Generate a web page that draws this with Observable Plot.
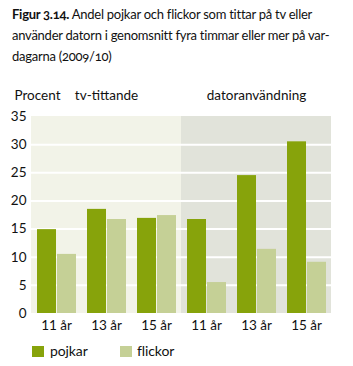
<!DOCTYPE html>
<html>
<head>
<meta charset="utf-8">
<script src="https://cdn.jsdelivr.net/npm/d3@7"></script>
<script src="https://cdn.jsdelivr.net/npm/@observablehq/plot@0.6"></script>
<style>
  html, body { margin: 0; padding: 0; background: #fff; }
  body { width: 353px; height: 366px; position: relative; overflow: hidden; font-family: Lato, "Open Sans", sans-serif; color: #111; }
  #title { position: absolute; left: 12px; top: 4px; font-size: 13px; letter-spacing: -0.25px; line-height: 21px; white-space: nowrap; font-variant-numeric: oldstyle-nums; }
  #title b { font-weight: 700; }
  #chart { position: absolute; left: 0; top: 80px; }
  .lg-sw { position: absolute; width: 12px; height: 11px; top: 346px; }
  .lg-tx { position: absolute; top: 342px; font-size: 14px; line-height: 18px; letter-spacing: -0.1px; }
</style>
</head>
<body>
<div id="title"><b>Figur 3.14.</b> Andel pojkar och flickor som tittar på tv eller<br>använder datorn i genomsnitt fyra timmar eller mer på var-<br>dagarna (2009/10)</div>
<div id="chart"></div>
<div class="lg-sw" style="left:32px;background:#87a30b"></div>
<div class="lg-tx" style="left:50px">pojkar</div>
<div class="lg-sw" style="left:120px;background:#c5d096"></div>
<div class="lg-tx" style="left:137px">flickor</div>
<script>
const groups = ["11 år", "13 år", "15 år"];
const sections = ["tv-tittande", "datoranvändning"];
const sexes = ["pojkar", "flickor"];
const pojkarTv = [14.9, 18.5, 16.9];
const flickorTv = [10.5, 16.7, 17.4];
const pojkarDator = [16.7, 24.5, 30.5];
const flickorDator = [5.5, 11.4, 9.1];
const yTicks = [0, 5, 10, 15, 20, 25, 30, 35];
const gridTicks = [5, 10, 15, 20, 25, 30];
const colors = ["#87a30b", "#c5d096"];
const bgColors = ["#f2f3e8", "#e1e3da"];

const values = {
  "tv-tittande": {pojkar: pojkarTv, flickor: flickorTv},
  "datoranvändning": {pojkar: pojkarDator, flickor: flickorDator}
};

const keys = [];
const bg = [];
const rows = [];
sections.forEach((s, si) => {
  groups.forEach((g, gi) => {
    const key = s + "|" + g;
    keys.push(key);
    bg.push({key, section: s, si});
    sexes.forEach(sex => rows.push({key, sex, value: values[s][sex][gi]}));
  });
});

const labels = [
  {key: keys[0], text: "Procent"},
  {key: keys[1], text: sections[0]},
  {key: keys[4], text: sections[1]}
];

const chart = Plot.plot({
  width: 353,
  height: 253,
  marginTop: 36,
  marginBottom: 20,
  marginLeft: 29,
  marginRight: 20,
  style: {fontFamily: "Lato, 'Open Sans', sans-serif", fontSize: "13.5px", color: "#111", background: "transparent", overflow: "visible"},
  fx: {domain: keys, padding: 0, tickFormat: k => k.split("|")[1], tickSize: 0, tickPadding: 7, label: null, axis: "bottom"},
  x: {domain: sexes, paddingInner: 0.05, paddingOuter: 0.26, axis: null},
  y: {domain: [0, 35], ticks: yTicks, tickSize: 0, tickPadding: 5, label: null},
  color: {domain: sexes, range: colors},
  marks: [
    Plot.barY(bg.filter(d => d.si === 0), {fx: "key", y1: 0, y2: 35, fill: bgColors[0]}),
    Plot.barY(bg.filter(d => d.si === 1), {fx: "key", y1: 0, y2: 35, fill: bgColors[1]}),
    Plot.ruleY(gridTicks, {stroke: "#fff", strokeWidth: 2}),
    Plot.barY(rows, {fx: "key", x: "sex", y: "value", fill: "sex"}),
    Plot.text(labels.slice(0, 1), {fx: "key", text: "text", frameAnchor: "top-left", textAnchor: "start", dx: -17, dy: -21, lineAnchor: "middle", fontSize: 13.5}),
    Plot.text(labels.slice(1), {fx: "key", text: "text", frameAnchor: "top", textAnchor: "middle", dy: -21, lineAnchor: "middle", fontSize: 13.5})
  ]
});
document.getElementById("chart").appendChild(chart);
</script>
</body>
</html>
